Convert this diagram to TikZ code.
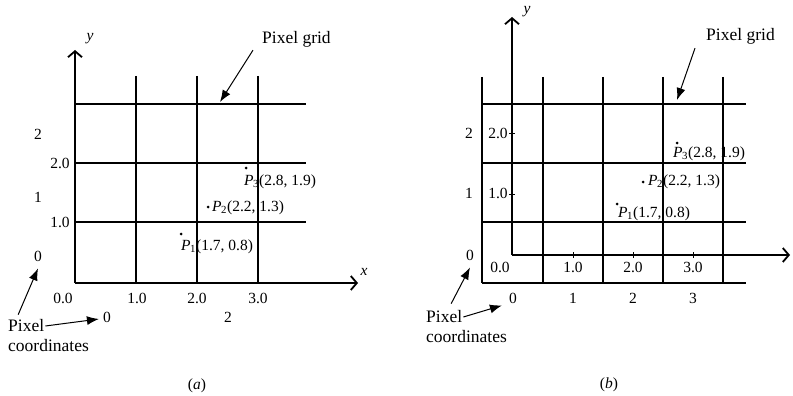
\documentclass[tikz,border=0pt]{standalone}
\usepackage{fontspec}
\setmainfont{Liberation Serif}
\usetikzlibrary{arrows.meta}

\tikzset{
  gridline/.style={line width=1.3pt},
  axisline/.style={line width=1.3pt, -{Straight Barb[length=6pt,width=14pt,line width=1.8pt]}},
  pointer/.style={line width=1pt, -{Latex[length=12pt,width=9pt]}},
  lbl/.style={font=\fontsize{15.5}{17}\selectfont, inner sep=1pt},
  callout/.style={font=\fontsize{17.5}{19}\selectfont, inner sep=1pt},
  dot/.style={circle, fill, inner sep=0pt, minimum size=3pt},
}
\newcommand{\pt}[1]{\textit{P}\textsubscript{\kern-0.5pt#1}}

\begin{document}
\begin{tikzpicture}[x=1pt, y=-1pt]

  \useasboundingbox (0,0) rectangle (793,396);

  % === (a) pixel centres on the grid corners ===
  \def\axl{75}    % left edge / y axis
  \def\axb{283}   % bottom edge / x axis

  % Grid
  \foreach \x in {136,197,258} {
    \draw[gridline] (\x,76) -- (\x,\axb);
  }
  \foreach \y in {104,163,222} {
    \draw[gridline] (\axl,\y) -- (306,\y);
  }

  % Axes
  \draw[axisline] (\axl,\axb) -- (\axl,50);
  \draw[axisline] (\axl,\axb) -- (358,\axb);
  \node[lbl, font=\fontsize{15.5}{17}\selectfont\itshape] (ya) at (90,39) {y};
  \node[lbl, font=\fontsize{15.5}{17}\selectfont\itshape] (xa) at (364,272) {x};

  % World coordinates
  \node[lbl] (wy2a) at (60,163) {2.0};
  \node[lbl] (wy1a) at (60,222) {1.0};
  \node[lbl] (w0a)  at (63,298) {0.0};
  \node[lbl] (wx1a) at (137,298) {1.0};
  \node[lbl] (wx2a) at (197,298) {2.0};
  \node[lbl] (wx3a) at (258,298) {3.0};

  % Pixel coordinates
  \node[lbl] (r2a) at (38,134) {2};
  \node[lbl] (r1a) at (38,197) {1};
  \node[lbl] (r0a) at (38,256) {0};
  \node[lbl] (c0a) at (107,317) {0};
  \node[lbl] (c2a) at (228,317) {2};

  % Points
  \node[dot] (p3a) at (246,168) {};
  \node[lbl, anchor=west] (l3a) at (243,182) {\pt{3}(2.8, 1.9)};
  \node[dot] (p2a) at (208,207) {};
  \node[lbl, anchor=west] (l2a) at (211,208) {\pt{2}(2.2, 1.3)};
  \node[dot] (p1a) at (181,234) {};
  \node[lbl, anchor=west] (l1a) at (180,247) {\pt{1}(1.7, 0.8)};

  % Callouts
  \node[callout, anchor=west] (grida) at (261,39) {Pixel grid};
  \coordinate (gtipa) at (220,102);
  \draw[pointer] ([xshift=-8pt,yshift=-2pt]grida.south west) -- (gtipa);

  \node[callout, anchor=west] (pxa) at (7,326) {Pixel};
  \node[callout, anchor=west] (coa) at (7,346) {coordinates};
  \draw[pointer] (pxa.east) -- ([xshift=-3pt,yshift=-2pt]c0a.west);
  \draw[pointer] ([xshift=-8pt,yshift=4pt]pxa.north) -- ([yshift=-6pt]r0a.south);

  \node[lbl] (capa) at (197,386) {(\textit{a})};

  % === (b) pixel centres inside the grid cells ===
  \def\bxl{512}   % y axis
  \def\bxb{255}   % x axis

  % Grid
  \foreach \x in {482,543,603,663,723} {
    \draw[gridline] (\x,77) -- (\x,283);
  }
  \foreach \y in {104,163,222,283} {
    \draw[gridline] (482,\y) -- (746,\y);
  }

  % Axes
  \draw[axisline] (\bxl,\bxb) -- (\bxl,17);
  \draw[axisline] (\bxl,\bxb) -- (790,\bxb);
  \node[lbl, font=\fontsize{15.5}{17}\selectfont\itshape] (yb) at (527,12) {y};

  % Ticks
  \foreach \x in {573,633,693} {
    \draw[line width=0.8pt] (\x,\bxb-3) -- (\x,\bxb+3);
  }
  \foreach \y in {133,194} {
    \draw[line width=0.8pt] (\bxl-3,\y) -- (\bxl+3,\y);
  }

  % World coordinates
  \node[lbl] (wy2b) at (498,133) {2.0};
  \node[lbl] (wy1b) at (498,193) {1.0};
  \node[lbl] (w0b)  at (500,267) {0.0};
  \node[lbl] (wx1b) at (573,267) {1.0};
  \node[lbl] (wx2b) at (633,267) {2.0};
  \node[lbl] (wx3b) at (693,267) {3.0};

  % Pixel coordinates
  \node[lbl] (r2b) at (469,133) {2};
  \node[lbl] (r1b) at (469,193) {1};
  \node[lbl] (r0b) at (470,255) {0};
  \node[lbl] (c0b) at (513,298) {0};
  \node[lbl] (c1b) at (573,298) {1};
  \node[lbl] (c2b) at (633,298) {2};
  \node[lbl] (c3b) at (693,298) {3};

  % Points
  \node[dot] (p3b) at (677,143) {};
  \node[lbl, anchor=west] (l3b) at (672,154) {\pt{3}(2.8, 1.9)};
  \node[dot] (p2b) at (643,182) {};
  \node[lbl, anchor=west] (l2b) at (647,182) {\pt{2}(2.2, 1.3)};
  \node[dot] (p1b) at (617,204) {};
  \node[lbl, anchor=west] (l1b) at (617,214) {\pt{1}(1.7, 0.8)};

  % Callouts
  \node[callout, anchor=west] (gridb) at (705,36) {Pixel grid};
  \coordinate (gtipb) at (677,100);
  \draw[pointer] ([xshift=-10pt,yshift=-3pt]gridb.south west) -- (gtipb);

  \node[callout, anchor=west] (pxb) at (425,317) {Pixel};
  \node[callout, anchor=west] (cob) at (425,337) {coordinates};
  \draw[pointer] (pxb.east) -- ([xshift=-6pt,yshift=-1pt]c0b.south west);
  \draw[pointer] ([xshift=7pt,yshift=6pt]pxb.north) -- ([yshift=-6pt]r0b.south);

  \node[lbl] (capb) at (609,385) {(\textit{b})};

\end{tikzpicture}
\end{document}
